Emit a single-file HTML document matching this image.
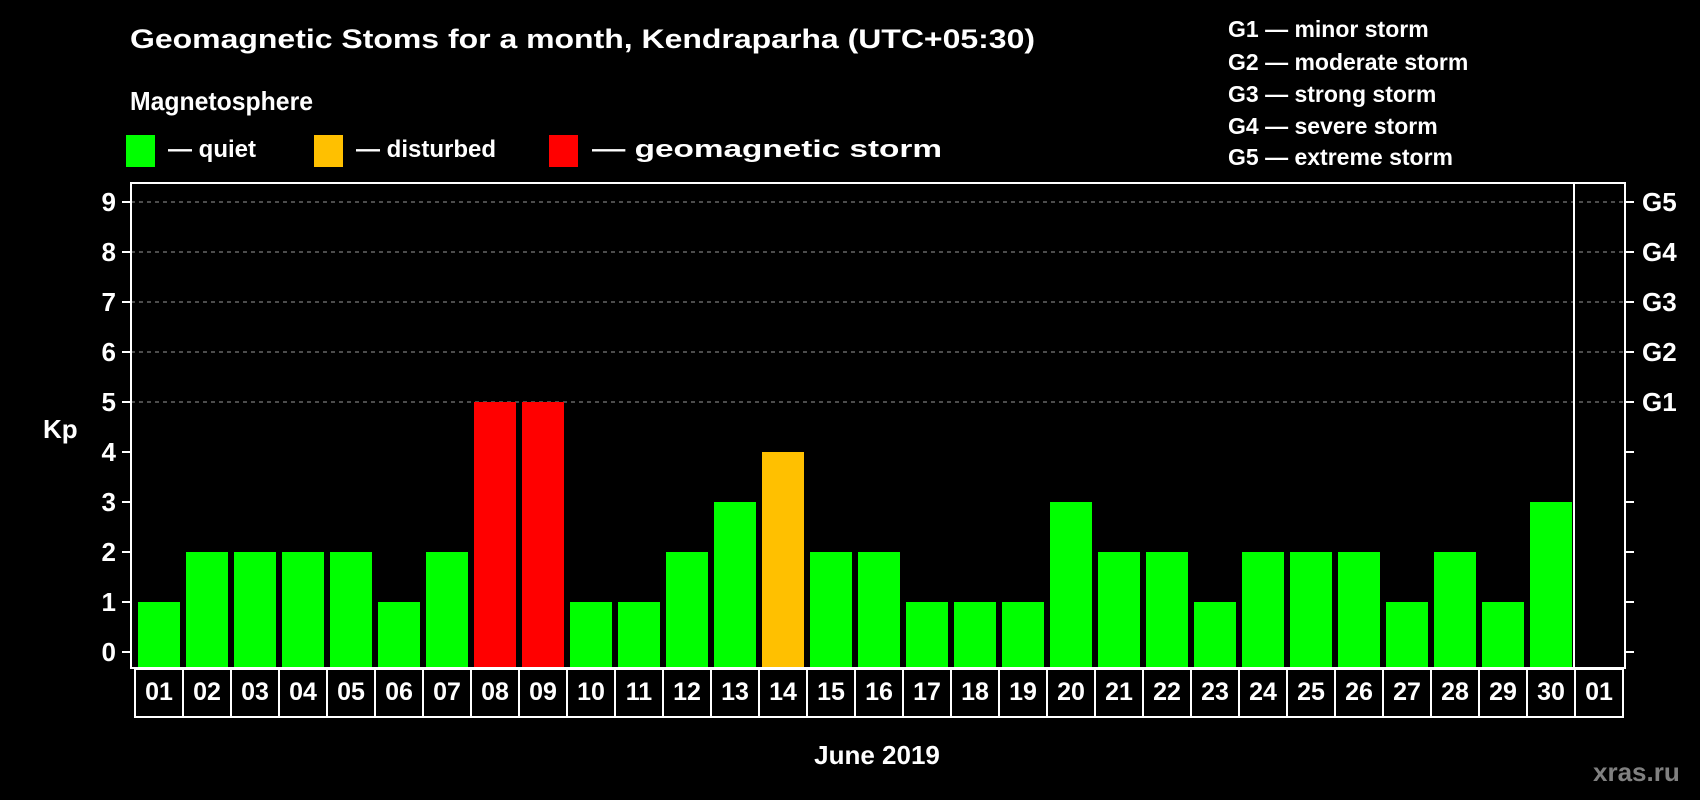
<!DOCTYPE html>
<html><head><meta charset="utf-8"><style>
html,body{margin:0;padding:0;background:#000;}
svg{display:block;font-family:"Liberation Sans",Arial,sans-serif;font-weight:bold;}
</style></head><body>
<svg id="chart" width="1700" height="800" viewBox="0 0 1700 800" xmlns="http://www.w3.org/2000/svg">
<rect width="1700" height="800" fill="#000"/>
<text x="130" y="48" fill="#fff" font-size="27" textLength="905" lengthAdjust="spacingAndGlyphs">Geomagnetic Stoms for a month, Kendraparha (UTC+05:30)</text>
<text x="130" y="110" fill="#fff" font-size="26" textLength="183" lengthAdjust="spacingAndGlyphs">Magnetosphere</text>
<g>
<rect x="126" y="135" width="29" height="32" fill="#00ff00"/>
<text x="168" y="157" fill="#fff" font-size="24">— quiet</text></g>
<g>
<rect x="314" y="135" width="29" height="32" fill="#ffc000"/>
<text x="356" y="157" fill="#fff" font-size="24">— disturbed</text></g>
<g>
<rect x="549" y="135" width="29" height="32" fill="#ff0000"/>
<text x="592" y="157" fill="#fff" font-size="24" textLength="350" lengthAdjust="spacingAndGlyphs">— geomagnetic storm</text></g>
<g fill="#fff" font-size="23">
<text x="1228" y="37">G1 — minor storm</text>
<text x="1228" y="70">G2 — moderate storm</text>
<text x="1228" y="102">G3 — strong storm</text>
<text x="1228" y="134">G4 — severe storm</text>
<text x="1228" y="165">G5 — extreme storm</text>
</g>
<text x="43" y="438" fill="#fff" font-size="26">Kp</text>
<g id="grid"></g>
<g id="bars"></g>
<g id="axes"></g>
<text x="877" y="764" fill="#fff" font-size="26" text-anchor="middle">June 2019</text>
<text x="1593" y="781" fill="#808080" font-size="26">xras.ru</text>
</svg>
<script>
const days = ["01","02","03","04","05","06","07","08","09","10","11","12","13","14","15","16","17","18","19","20","21","22","23","24","25","26","27","28","29","30","01"];
const kpValues = [1,2,2,2,2,1,2,5,5,1,1,2,3,4,2,2,1,1,1,3,2,2,1,2,2,2,1,2,1,3];
const yTicks = [0,1,2,3,4,5,6,7,8,9];
const gLabels = ["G1","G2","G3","G4","G5"];
const gLevels = [5,6,7,8,9];

const NS = "http://www.w3.org/2000/svg";
const plotL = 131, plotR = 1625, plotT = 183, plotB = 668;
const y0 = 652, unit = 50, pitch = 48, x0 = 135;
function yScale(v){ return y0 - v*unit; }
function xScale(i){ return x0 + i*pitch; }
function mk(tag, attrs, parent){ const e=document.createElementNS(NS,tag); for(const k in attrs) e.setAttribute(k,attrs[k]); parent.appendChild(e); return e; }
const grid=document.getElementById('grid'), bars=document.getElementById('bars'), axes=document.getElementById('axes');

gLevels.forEach((lv)=>{
  const l=mk('line',{x1:plotL,x2:plotR,y1:yScale(lv),y2:yScale(lv),stroke:'#999','stroke-width':1,'stroke-dasharray':'4,4'},grid);
  
  
});

kpValues.forEach((v,i)=>{
  const col = v>=5 ? '#ff0000' : (v>=4 ? '#ffc000' : '#00ff00');
  const r=mk('rect',{x:xScale(i)+3,y:yScale(v),width:42,height:plotB-yScale(v),fill:col},bars);
  
  
});

const frame=mk('rect',{x:plotL,y:plotT,width:plotR-plotL,height:plotB-plotT,fill:'none',stroke:'#fff','stroke-width':2},axes);


const sep=mk('line',{x1:xScale(kpValues.length)-1,x2:xScale(kpValues.length)-1,y1:plotT,y2:plotB,stroke:'#fff','stroke-width':2},axes);



yTicks.forEach((t)=>{
  const y=yScale(t);
  mk('line',{x1:plotL-9,x2:plotL,y1:y,y2:y,stroke:'#fff','stroke-width':2},axes);
  mk('line',{x1:plotR,x2:plotR+9,y1:y,y2:y,stroke:'#fff','stroke-width':2},axes);
  const tx=mk('text',{x:116,y:y+9,fill:'#fff','font-size':26,'text-anchor':'end'},axes);
  tx.textContent=t;
  
  
});
gLevels.forEach((lv,i)=>{
  const tx=mk('text',{x:1642,y:yScale(lv)+9,fill:'#fff','font-size':26},axes);
  tx.textContent=gLabels[i];
  
  
});

days.forEach((d,i)=>{
  const c=mk('rect',{x:xScale(i),y:669,width:pitch,height:48,fill:'none',stroke:'#fff','stroke-width':2},axes);
  
  
  const tx=mk('text',{x:xScale(i)+pitch/2,y:700,fill:'#fff','font-size':25,'text-anchor':'middle'},axes);
  tx.textContent=d;
  
  
});
</script>
</body></html>
